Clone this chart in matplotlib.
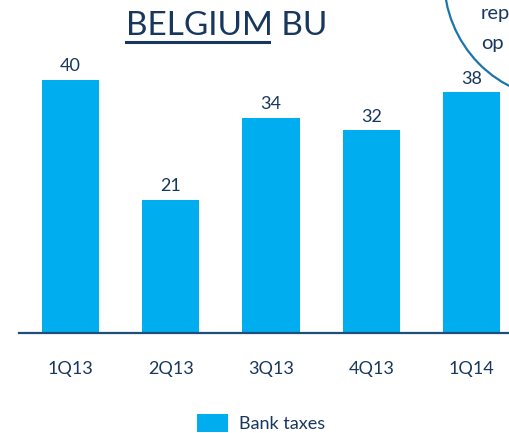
import matplotlib.pyplot as plt
from matplotlib.patches import Ellipse
from matplotlib.lines import Line2D

# data
quarters = ['1Q13', '2Q13', '3Q13', '4Q13', '1Q14']
bank_taxes = [40, 21, 34, 32, 38]

bar_color = '#00AEEF'
navy = '#17375E'
plt.rcParams['font.family'] = ['Lato', 'DejaVu Sans']

fig = plt.figure(figsize=(5.10, 4.33), dpi=100)
ax = fig.add_axes([19 / 510, 100 / 433, 1 - 19 / 510, 333 / 433])

x = range(len(quarters))
bars = ax.bar(x, bank_taxes, width=0.57, color=bar_color, label='Bank taxes')
ax.bar_label(bars, padding=4, fontsize=13, color=navy)

ax.set_xlim(-0.51, 4.38)
ax.set_ylim(0, 52.6)
ax.set_xticks(list(x))
ax.set_xticklabels(quarters, fontsize=13, color=navy)
ax.tick_params(axis='x', length=0, pad=20)
ax.set_yticks([])
for side in ['top', 'right', 'left']:
    ax.spines[side].set_visible(False)
ax.spines['bottom'].set_color('#1F4E79')
ax.spines['bottom'].set_linewidth(1.6)

# title with underlined first word
fig.text(126 / 510, 1 - 26 / 433, 'BELGIUM BU', fontsize=24, color=navy,
         ha='left', va='center')
fig.add_artist(Line2D([126 / 510, 269 / 510], [1 - 42 / 433, 1 - 42 / 433],
                      color=navy, linewidth=2.2))

# partially visible callout bubble at top right
fig.add_artist(Ellipse((563 / 510, 1 + 22 / 433), 2 * 119 / 510, 2 * 121 / 433,
                       fill=False, edgecolor='#1B75A8', linewidth=1.6))
fig.text(481 / 510, 1 - 13 / 433, 'rep', fontsize=14.5, color=navy, va='center', ha='left')
fig.text(481 / 510, 1 - 43 / 433, 'op', fontsize=14.5, color=navy, va='center', ha='left')

fig.legend(loc='center', bbox_to_anchor=(261 / 510, 1 - 423 / 433), frameon=False,
           fontsize=13, handlelength=1.7, handleheight=1.2, handletextpad=0.6,
           labelcolor=navy)

plt.savefig('out.png', dpi=100)
